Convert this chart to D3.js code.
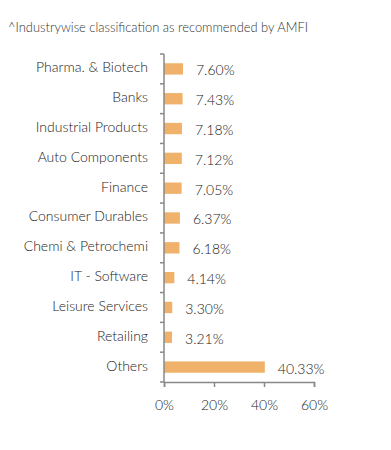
<!DOCTYPE html>
<html>
<head>
<meta charset="utf-8">
<script src="https://cdn.jsdelivr.net/npm/d3@7"></script>
<style>
	body { margin: 0; background: #fff; }
	text { font-family: Lato, "Open Sans", sans-serif; font-weight: 300; }
</style>
</head>
<body>
<div id="chart"></div>
<script>
'use strict'

var categories = ["Pharma. & Biotech", "Banks", "Industrial Products", "Auto Components", "Finance",
	"Consumer Durables", "Chemi & Petrochemi", "IT - Software", "Leisure Services", "Retailing", "Others"];
var values = [7.60, 7.43, 7.18, 7.12, 7.05, 6.37, 6.18, 4.14, 3.30, 3.21, 40.33];
var xTicks = [0, 20, 40, 60];
var note = "^Industrywise classification as recommended by AMFI";

var width = 391, height = 450;
var plotLeft = 164, plotRight = 314, plotTop = 54, plotBottom = 382;

var svg = d3.select("#chart")
	.append("svg")
	.attr("width", width)
	.attr("height", height);

var x = d3.scaleLinear().domain([0, 60]).range([plotLeft, plotRight]);
var y = d3.scaleBand().domain(categories).range([plotTop, plotBottom]).paddingInner(0.62).paddingOuter(0.31);

// note
svg.append("text")
	.attr("x", 8)
	.attr("y", 32)
	.text(note)
	.style("font-size", "12.9px")
	.style("fill", "#333");

// bars
svg.append("g")
	.selectAll("rect")
	.data(values)
	.enter()
	.append("rect")
		.attr("x", x(0))
		.attr("y", function(d, i){ return y(categories[i]); })
		.attr("width", function(d){ return x(d) - x(0); })
		.attr("height", y.bandwidth())
		.attr("fill", "#f0b26b");

// value labels
svg.append("g")
	.selectAll("text")
	.data(values)
	.enter()
	.append("text")
		.attr("x", function(d){ return x(d) + 13; })
		.attr("y", function(d, i){ return y(categories[i]) + y.bandwidth()/2 + 3; })
		.attr("dominant-baseline", "middle")
		.text(function(d){ return d.toFixed(2) + "%"; })
		.style("font-size", "14px")
		.style("fill", "#222");

// y axis
var step = (plotBottom - plotTop) / categories.length;
var gy = svg.append("g");
gy.append("line")
	.attr("x1", plotLeft).attr("x2", plotLeft)
	.attr("y1", plotTop).attr("y2", plotBottom)
	.attr("stroke", "#888").attr("stroke-width", 1.5);
gy.selectAll("line.tick")
	.data(d3.range(categories.length + 1))
	.enter()
	.append("line")
		.attr("class", "tick")
		.attr("x1", plotLeft - 4).attr("x2", plotLeft)
		.attr("y1", function(d){ return plotTop + d*step; })
		.attr("y2", function(d){ return plotTop + d*step; })
		.attr("stroke", "#888").attr("stroke-width", 1.5);
gy.selectAll("text")
	.data(categories)
	.enter()
	.append("text")
		.attr("x", 148)
		.attr("y", function(d){ return y(d) + y.bandwidth()/2; })
		.attr("text-anchor", "end")
		.attr("dominant-baseline", "middle")
		.text(function(d){ return d; })
		.style("font-size", "14px")
		.style("fill", "#222");

// x axis
var xAxis = d3.axisBottom(x)
	.tickValues(xTicks)
	.tickFormat(function(d){ return d + "%"; })
	.tickSize(5)
	.tickPadding(13);

var gx = svg.append("g")
	.attr("transform", "translate(0," + plotBottom + ")")
	.call(xAxis);
gx.select(".domain").attr("stroke", "#888").attr("stroke-width", 1.5);
gx.selectAll(".tick line").attr("stroke", "#888").attr("stroke-width", 1.5);
gx.selectAll(".tick text")
	.style("font-size", "14px")
	.style("font-family", "Lato, sans-serif")
	.style("font-weight", 300)
	.style("fill", "#222");
</script>
</body>
</html>
